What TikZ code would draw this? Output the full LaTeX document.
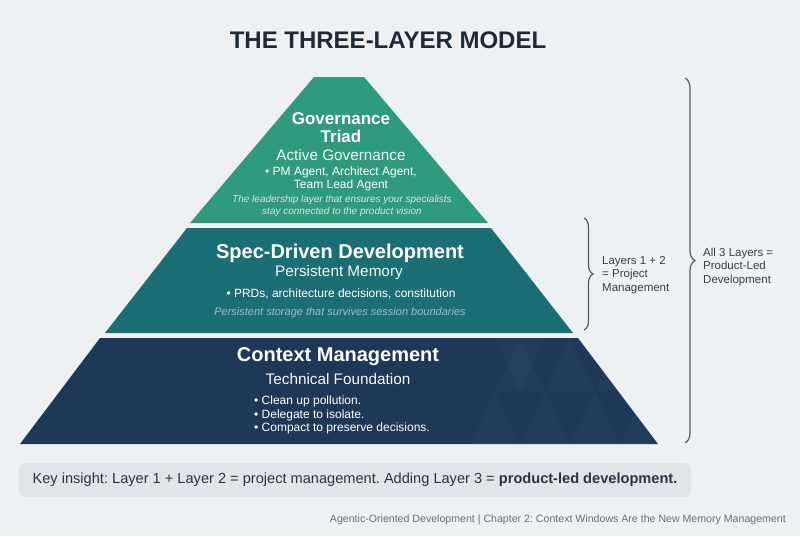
\documentclass[tikz,border=0pt]{standalone}
\usepackage{fontspec}
\setmainfont{Liberation Sans}
\usetikzlibrary{positioning,decorations.pathreplacing}
\frenchspacing
\definecolor{bgGray}{HTML}{EEF1F3}
\definecolor{govGreen}{HTML}{2F9A7D}
\definecolor{specTeal}{HTML}{1B6E73}
\definecolor{ctxNavy}{HTML}{1E3858}
\definecolor{titleInk}{HTML}{1E2A38}
\definecolor{braceInk}{HTML}{585D63}
\definecolor{boxGray}{HTML}{E1E4E8}
\definecolor{footInk}{HTML}{6A6F75}
\tikzset{
  txt/.style   ={inner sep=0pt,align=center,text=white},
  head/.style  ={txt,font=\bfseries\fontsize{20}{22}\selectfont},
  headS/.style ={txt,font=\bfseries\fontsize{17}{18}\selectfont},
  sub/.style   ={txt,font=\fontsize{15.3}{17}\selectfont,text=white!94!govGreen},
  item/.style  ={txt,font=\fontsize{12}{13.5}\selectfont},
  note/.style  ={txt,font=\itshape\fontsize{10}{12}\selectfont},
  side/.style  ={inner sep=0pt,align=left,text=titleInk!90,
                 font=\fontsize{11.5}{13.5}\selectfont},
  brc/.style   ={decorate,decoration={brace,amplitude=9pt},draw=braceInk,
                 line width=1.2pt},
  tri/.style   ={fill=white,opacity=0.025},
}

\begin{document}
\begin{tikzpicture}[x=1pt,y=-1pt]

\fill[bgGray] (0,0) rectangle (800,536);
\useasboundingbox (0,0) rectangle (800,536);

\node[inner sep=0pt,text=titleInk,font=\bfseries\fontsize{24}{26}\selectfont]
      (title) at (388,40) {THE THREE-LAYER MODEL};

%% the three layers of the pyramid
\fill[govGreen] (314,77) -- (364,77) -- (488,223) -- (190,223) -- cycle;
\fill[specTeal] (187,228) -- (491,228) -- (573,333) -- (105,333) -- cycle;
\fill[ctxNavy]  (100,338) -- (578,338) -- (658,444) -- (20,444) -- cycle;

%% faint triangles on the base layer
\begin{scope}
  \clip (100,338) -- (578,338) -- (658,444) -- (20,444) -- cycle;
  \foreach \x in {470,520,570,620} {
    \fill[tri] (\x,444) -- (\x+25,391) -- (\x+50,444) -- cycle;
    \fill[tri] (\x+25,391) -- (\x+50,338) -- (\x+75,391) -- cycle;
  }
  \fill[tri] (495,338) -- (545,338) -- (520,391) -- cycle;
\end{scope}

%% layer 3: governance
\node[headS] (govHead) at (341,128) {Governance\\Triad};
\node[sub]   (govSub)  at (341,155) {Active Governance};
\node[item]  (govItem) at (341,179) {• PM Agent, Architect Agent,\\Team Lead Agent};
\node[note,text=white!78!govGreen] (govNote) at (342,206)
      {The leadership layer that ensures your specialists\\stay connected to the product vision};

%% layer 2: spec-driven development
\node[head] (specHead) at (340,253) {Spec-Driven Development};
\node[sub]  (specSub)  at (339,273) {Persistent Memory};
\node[item] (specItem) at (341,294) {• PRDs, architecture decisions, constitution};
\node[note,font=\itshape\fontsize{11}{12}\selectfont,text=white!55!specTeal]
      (specNote) at (340,313) {Persistent storage that survives session boundaries};

%% layer 1: context management
\node[head] (ctxHead) at (338,357) {Context Management};
\node[sub]  (ctxSub)  at (338,379) {Technical Foundation};
\node[item,align=left,anchor=west] (ctxItems) at (254,415)
      {• Clean up pollution.\\• Delegate to isolate.\\• Compact to preserve decisions.};

%% braces on the right
\coordinate (pmTop)  at (584,218);
\coordinate (pmBot)  at (584,330);
\coordinate (pldTop) at (685,78);
\coordinate (pldBot) at (685,443);
\draw[brc] (pmTop) -- (pmBot);
\draw[brc,decoration={brace,amplitude=10pt}] (pldTop) -- (pldBot);
\node[side,anchor=west] (pmLabel)  at (602,275) {Layers 1 + 2\\= Project\\Management};
\node[side,anchor=west] (pldLabel) at (703,267) {All 3 Layers =\\Product-Led\\Development};

%% key insight and footer
\node[fill=boxGray,rounded corners=6pt,minimum width=672pt,minimum height=34pt,
      inner sep=0pt,text=titleInk!95,font=\fontsize{14.6}{16}\selectfont]
      (insightBox) at (355,480)
      {Key insight: Layer 1 + Layer 2 = project management. Adding Layer 3 = \textbf{product-led development.}};
\node[anchor=east,inner sep=0pt,text=footInk,font=\fontsize{10.6}{12}\selectfont]
      (footer) at (786,520)
      {Agentic-Oriented Development | Chapter 2: Context Windows Are the New Memory Management};

\end{tikzpicture}
\end{document}
